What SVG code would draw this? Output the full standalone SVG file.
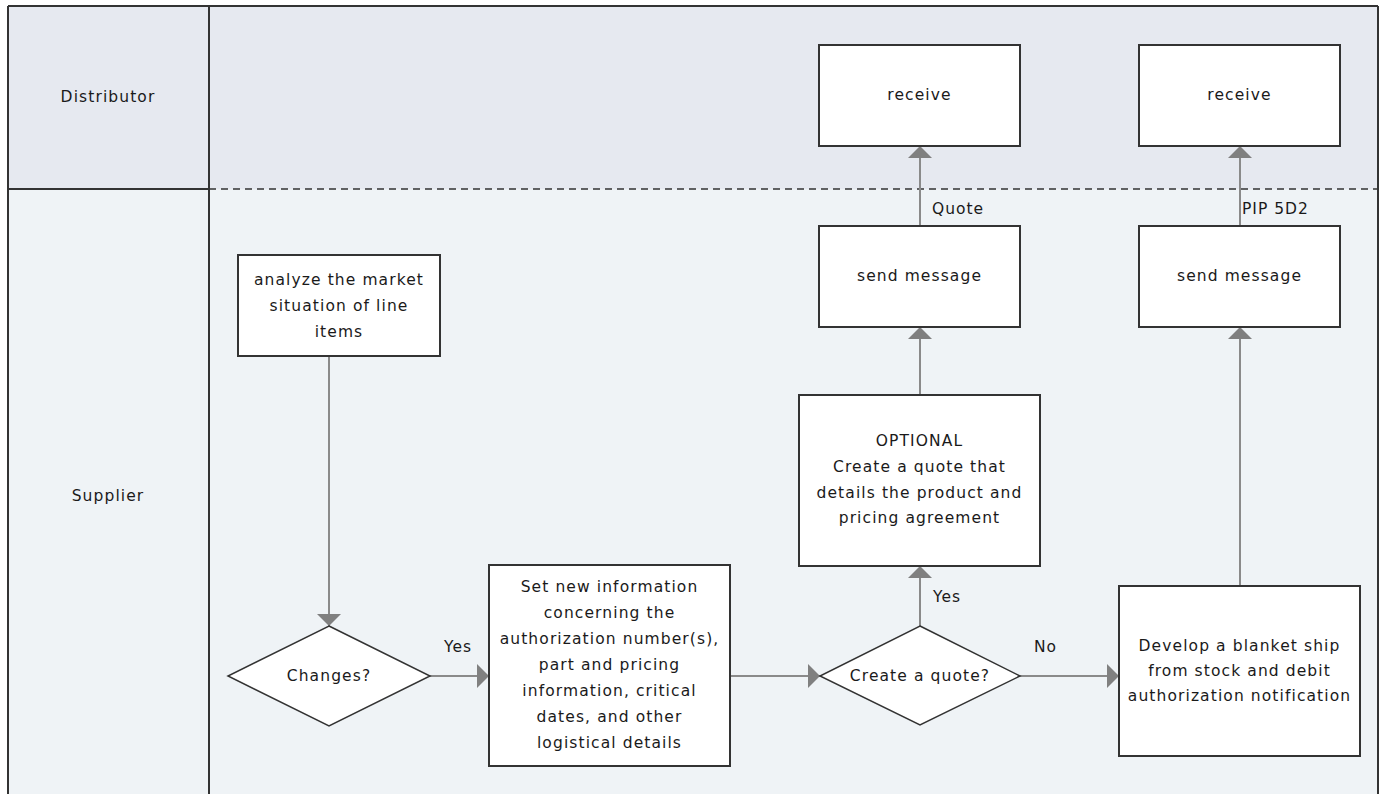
<svg xmlns="http://www.w3.org/2000/svg" width="1385" height="794" viewBox="0 0 1385 794">
<style>
  .lane-dist { fill: #e6e9f0; }
  .lane-sup { fill: #eff3f6; }
  .border { stroke: #333; stroke-width: 2; fill: none; }
  .box { fill: #ffffff; stroke: #333; stroke-width: 2; }
  .dia { fill: #ffffff; stroke: #333; stroke-width: 1.5; }
  .t { font-family: "DejaVu Sans", "Liberation Sans", sans-serif; font-size: 15.5px; letter-spacing: 1.1px; fill: #1a1a1a; text-anchor: middle; dominant-baseline: central; }
  .lbl { font-family: "DejaVu Sans", "Liberation Sans", sans-serif; font-size: 15.5px; letter-spacing: 1px; fill: #1a1a1a; dominant-baseline: central; }
  .conn { stroke: #8a8a8a; stroke-width: 2; fill: none; marker-end: url(#arr); }
</style>
<defs>
  <marker id="arr" viewBox="0 0 12 24" refX="12" refY="12" markerWidth="12" markerHeight="24" markerUnits="userSpaceOnUse" orient="auto">
    <path d="M0,0 L12,12 L0,24 Z" fill="#808080"/>
  </marker>
</defs>

<g id="lanes">
  <rect class="lane-dist" x="8" y="6" width="1370" height="183"/>
  <rect class="lane-sup" x="8" y="189" width="1370" height="605"/>
  <line class="border" x1="8" y1="6" x2="1378" y2="6"/>
  <line class="border" x1="8" y1="6" x2="8" y2="794"/>
  <line class="border" x1="1378" y1="6" x2="1378" y2="794"/>
  <line class="border" x1="209" y1="6" x2="209" y2="794"/>
  <line class="border" x1="8" y1="189" x2="209" y2="189"/>
  <line x1="209" y1="189" x2="1378" y2="189" stroke="#333" stroke-width="1.5" stroke-dasharray="7,5"/>
  <text class="t" x="108" y="97">Distributor</text>
  <text class="t" x="108" y="496">Supplier</text>
</g>

<g id="connectors">
  <line class="conn" x1="329" y1="356" x2="329" y2="626"/>
  <line class="conn" x1="430" y1="676" x2="489" y2="676"/>
  <line class="conn" x1="730" y1="676" x2="820" y2="676"/>
  <line class="conn" x1="920" y1="626" x2="920" y2="566"/>
  <line class="conn" x1="1020" y1="676" x2="1119" y2="676"/>
  <line class="conn" x1="920" y1="395" x2="920" y2="327"/>
  <line class="conn" x1="920" y1="226" x2="920" y2="146"/>
  <line class="conn" x1="1240" y1="586" x2="1240" y2="327"/>
  <line class="conn" x1="1240" y1="226" x2="1240" y2="146"/>
  <text class="lbl" x="444" y="647">Yes</text>
  <text class="lbl" x="933" y="597">Yes</text>
  <text class="lbl" x="1034" y="647">No</text>
  <text class="lbl" x="932" y="209">Quote</text>
  <text class="lbl" x="1242" y="209">PIP 5D2</text>
</g>

<g id="receive1">
  <rect class="box" x="819" y="45" width="201" height="101"/>
  <text class="t" x="919.5" y="95">receive</text>
</g>
<g id="receive2">
  <rect class="box" x="1139" y="45" width="201" height="101"/>
  <text class="t" x="1239.5" y="95">receive</text>
</g>
<g id="send1">
  <rect class="box" x="819" y="226" width="201" height="101"/>
  <text class="t" x="919.5" y="276">send message</text>
</g>
<g id="send2">
  <rect class="box" x="1139" y="226" width="201" height="101"/>
  <text class="t" x="1239.5" y="276">send message</text>
</g>
<g id="analyze">
  <rect class="box" x="238" y="255" width="202" height="101"/>
  <text class="t" x="339" y="280">analyze the market</text>
  <text class="t" x="339" y="306">situation of line</text>
  <text class="t" x="339" y="332">items</text>
</g>
<g id="changes">
  <polygon class="dia" points="329,626 430,676 329,726 228,676"/>
  <text class="t" x="329" y="676">Changes?</text>
</g>
<g id="setinfo">
  <rect class="box" x="489" y="565" width="241" height="201"/>
  <text class="t" x="609.5" y="587">Set new information</text>
  <text class="t" x="609.5" y="613">concerning the</text>
  <text class="t" x="609.5" y="639">authorization number(s),</text>
  <text class="t" x="609.5" y="665">part and pricing</text>
  <text class="t" x="609.5" y="691">information, critical</text>
  <text class="t" x="609.5" y="717">dates, and other</text>
  <text class="t" x="609.5" y="743">logistical details</text>
</g>
<g id="createquote">
  <polygon class="dia" points="920,626 1020,676 920,725 820,676"/>
  <text class="t" x="920" y="676">Create a quote?</text>
</g>
<g id="optional">
  <rect class="box" x="799" y="395" width="241" height="171"/>
  <text class="t" x="919.5" y="441">OPTIONAL</text>
  <text class="t" x="919.5" y="467">Create a quote that</text>
  <text class="t" x="919.5" y="493">details the product and</text>
  <text class="t" x="919.5" y="518">pricing agreement</text>
</g>
<g id="develop">
  <rect class="box" x="1119" y="586" width="241" height="170"/>
  <text class="t" x="1239.5" y="646">Develop a blanket ship</text>
  <text class="t" x="1239.5" y="671">from stock and debit</text>
  <text class="t" x="1239.5" y="696">authorization notification</text>
</g>
</svg>
